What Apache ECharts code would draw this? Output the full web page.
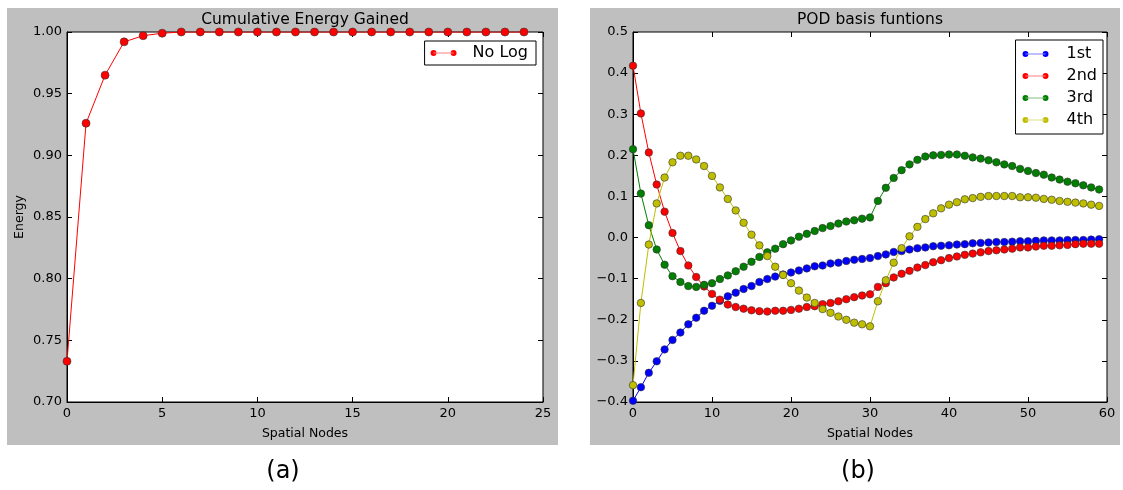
<!DOCTYPE html>
<html>
<head>
<meta charset="utf-8">
<script src="https://cdn.jsdelivr.net/npm/echarts@6/dist/echarts.min.js"></script>
<style>
  html, body { margin: 0; padding: 0; background: #fff; }
  #main { width: 1123px; height: 490px; }
</style>
</head>
<body>
<div id="main"></div>
<script>
// 左图：累计能量
var energyNodes = [0,1,2,3,4,5,6,7,8,9,10,11,12,13,14,15,16,17,18,19,20,21,22,23,24];
var energyNoLog = [0.733,0.926,0.965,0.992,0.997,0.999,1.0,1.0,1.0,1.0,1.0,1.0,1.0,1.0,1.0,1.0,1.0,1.0,1.0,1.0,1.0,1.0,1.0,1.0,1.0];

// 右图：POD 基函数
var podNodes = [];
for (var i = 0; i < 60; i++) podNodes.push(i);
var pod1st = [-0.397,-0.364,-0.329,-0.301,-0.272,-0.249,-0.231,-0.211,-0.195,-0.178,
  -0.166,-0.154,-0.143,-0.134,-0.125,-0.118,-0.108,-0.101,-0.095,-0.090,
  -0.085,-0.080,-0.075,-0.070,-0.068,-0.063,-0.061,-0.057,-0.054,-0.052,
  -0.050,-0.045,-0.041,-0.035,-0.033,-0.029,-0.026,-0.024,-0.021,-0.020,
  -0.019,-0.017,-0.016,-0.014,-0.013,-0.012,-0.011,-0.011,-0.010,-0.009,
  -0.009,-0.008,-0.007,-0.007,-0.007,-0.006,-0.006,-0.006,-0.005,-0.004];
var pod2nd = [0.418,0.302,0.207,0.129,0.063,0.011,-0.033,-0.068,-0.096,-0.119,
  -0.137,-0.151,-0.163,-0.169,-0.173,-0.177,-0.179,-0.180,-0.178,-0.178,
  -0.176,-0.173,-0.169,-0.167,-0.162,-0.159,-0.155,-0.150,-0.145,-0.141,
  -0.138,-0.120,-0.111,-0.097,-0.088,-0.081,-0.073,-0.067,-0.060,-0.055,
  -0.050,-0.046,-0.042,-0.039,-0.036,-0.033,-0.031,-0.029,-0.027,-0.024,
  -0.024,-0.022,-0.020,-0.020,-0.019,-0.018,-0.016,-0.015,-0.015,-0.015];
var pod3rd = [0.215,0.107,0.030,-0.029,-0.066,-0.094,-0.108,-0.118,-0.120,-0.115,
  -0.111,-0.101,-0.092,-0.082,-0.071,-0.059,-0.047,-0.036,-0.027,-0.016,
  -0.007,0.002,0.009,0.016,0.023,0.028,0.034,0.039,0.042,0.046,
  0.049,0.089,0.121,0.145,0.164,0.178,0.189,0.197,0.200,0.201,
  0.202,0.202,0.199,0.195,0.192,0.188,0.183,0.178,0.174,0.167,
  0.162,0.157,0.153,0.146,0.141,0.136,0.132,0.127,0.122,0.117];
var pod4th = [-0.359,-0.159,-0.017,0.083,0.146,0.183,0.199,0.199,0.190,0.174,
  0.150,0.122,0.094,0.066,0.036,0.007,-0.019,-0.045,-0.071,-0.091,
  -0.111,-0.129,-0.146,-0.159,-0.174,-0.183,-0.192,-0.200,-0.207,-0.211,
  -0.216,-0.155,-0.104,-0.061,-0.026,0.003,0.026,0.045,0.059,0.071,
  0.080,0.086,0.093,0.096,0.099,0.101,0.101,0.101,0.101,0.098,
  0.098,0.097,0.094,0.092,0.089,0.087,0.085,0.083,0.080,0.077];

var FONT = 'DejaVu Sans';
var legendIcon = 'path://M0,5a5,5 0 1,0 10,0a5,5 0 1,0-10,0zM34,5a5,5 0 1,0 10,0a5,5 0 1,0-10,0zM5,4.5h34v1h-34z';

function pairs(xs, ys) {
  return xs.map(function (x, i) { return [x, ys[i]]; });
}
function minus(v, d) {
  var s = Math.abs(v).toFixed(d);
  return v < -1e-9 ? '\u2212' + s : s;
}
function lineSeries(name, color, xi, yi, xs, ys, size) {
  return {
    name: name, type: 'line', xAxisIndex: xi, yAxisIndex: yi,
    data: pairs(xs, ys),
    symbol: 'circle', symbolSize: size,
    lineStyle: { color: color, width: 1 },
    itemStyle: { color: color, borderColor: '#333', borderWidth: 0.6 },
    emphasis: { disabled: true },
    animation: false, z: 3
  };
}
function tickAxis(grid, pos, min, max, interval) {
  return {
    type: 'value', gridIndex: grid, position: pos, min: min, max: max, interval: interval,
    axisLine: { show: false, onZero: false }, axisLabel: { show: false },
    axisTick: { show: true, inside: true, length: 5, lineStyle: { color: '#000' } },
    splitLine: { show: false }
  };
}
function mainX(grid, max, interval) {
  return {
    type: 'value', gridIndex: grid, min: 0, max: max, interval: interval,
    name: 'Spatial Nodes', nameLocation: 'middle', nameGap: 25,
    nameTextStyle: { fontFamily: FONT, fontSize: 12.5, color: '#000' },
    axisLine: { onZero: false, lineStyle: { color: '#000' } },
    axisTick: { inside: true, length: 5, lineStyle: { color: '#000' } },
    axisLabel: { fontFamily: FONT, fontSize: 13, color: '#000', margin: 5 },
    splitLine: { show: false }
  };
}

var dom = document.getElementById('main');
var myChart = echarts.init(dom, null, { renderer: 'canvas' });
var option = {
  backgroundColor: '#fff',
  animation: false,
  textStyle: { fontFamily: FONT },
  graphic: [
    { type: 'rect', shape: { x: 7, y: 8, width: 551, height: 437 }, style: { fill: '#bfbfbf' }, z: -10 },
    { type: 'rect', shape: { x: 590, y: 8, width: 530, height: 437 }, style: { fill: '#bfbfbf' }, z: -10 },
    { type: 'text', x: 283, y: 472, style: { text: '(a)', font: '24px "DejaVu Sans"', fill: '#000', textAlign: 'center', textVerticalAlign: 'middle' } },
    { type: 'text', x: 858, y: 472, style: { text: '(b)', font: '24px "DejaVu Sans"', fill: '#000', textAlign: 'center', textVerticalAlign: 'middle' } }
  ],
  title: [
    { text: 'Cumulative Energy Gained', left: 305, top: 12, textAlign: 'center', padding: 0,
      textStyle: { fontFamily: FONT, fontSize: 15.5, fontWeight: 'normal', color: '#000' } },
    { text: 'POD basis funtions', left: 870, top: 12, textAlign: 'center', padding: 0,
      textStyle: { fontFamily: FONT, fontSize: 15.5, fontWeight: 'normal', color: '#000' } }
  ],
  legend: [
    { data: ['No Log'], right: 587, top: 41, orient: 'vertical',
      icon: legendIcon, itemWidth: 26, itemHeight: 7,
      itemStyle: { borderWidth: 0 },
      borderColor: '#000', borderWidth: 1, borderRadius: 0, padding: [4, 8, 4, 6],
      backgroundColor: '#fff',
      textStyle: { fontFamily: FONT, fontSize: 16, color: '#000', padding: [0, 0, 0, 11] } },
    { data: ['1st', '2nd', '3rd', '4th'], right: 20, top: 40, orient: 'vertical',
      icon: legendIcon, itemWidth: 26, itemHeight: 7, itemGap: 6,
      itemStyle: { borderWidth: 0 },
      borderColor: '#000', borderWidth: 1, borderRadius: 0, padding: [6, 6, 6, 7],
      backgroundColor: '#fff',
      textStyle: { fontFamily: FONT, fontSize: 16, color: '#000', padding: [0, 0, 0, 13] } }
  ],
  grid: [
    { left: 67, top: 32, width: 476, height: 370, show: true, backgroundColor: '#fff', borderColor: '#000', borderWidth: 1 },
    { left: 633, top: 32, width: 474, height: 370, show: true, backgroundColor: '#fff', borderColor: '#000', borderWidth: 1 }
  ],
  xAxis: [
    mainX(0, 25, 5),
    tickAxis(0, 'top', 0, 25, 5),
    mainX(1, 60, 10),
    tickAxis(1, 'top', 0, 60, 10)
  ],
  yAxis: [
    { type: 'value', gridIndex: 0, min: 0.70, max: 1.00, interval: 0.05,
      name: 'Energy', nameLocation: 'middle', nameGap: 41,
      nameTextStyle: { fontFamily: FONT, fontSize: 12.5, color: '#000' },
      axisLine: { onZero: false, lineStyle: { color: '#000' } },
      axisTick: { inside: true, length: 5, lineStyle: { color: '#000' } },
      axisLabel: { fontFamily: FONT, fontSize: 13, color: '#000', margin: 5,
        formatter: function (v) { return v.toFixed(2); } },
      splitLine: { show: false } },
    tickAxis(0, 'right', 0.70, 1.00, 0.05),
    { type: 'value', gridIndex: 1, min: -0.4, max: 0.5, interval: 0.1,
      axisLine: { onZero: false, lineStyle: { color: '#000' } },
      axisTick: { inside: true, length: 5, lineStyle: { color: '#000' } },
      axisLabel: { fontFamily: FONT, fontSize: 13, color: '#000', margin: 5,
        formatter: function (v) { return minus(v, 1); } },
      splitLine: { show: false } },
    tickAxis(1, 'right', -0.4, 0.5, 0.1)
  ],
  series: [
    lineSeries('No Log', '#ff0000', 0, 0, energyNodes, energyNoLog, 8),
    lineSeries('1st', '#0000ff', 2, 2, podNodes, pod1st, 7.5),
    lineSeries('2nd', '#ff0000', 2, 2, podNodes, pod2nd, 7.5),
    lineSeries('3rd', '#008000', 2, 2, podNodes, pod3rd, 7.5),
    lineSeries('4th', '#bfbf00', 2, 2, podNodes, pod4th, 7.5)
  ]
};

if (option && typeof option === 'object') {
  myChart.setOption(option, true);
}
</script>
</body>
</html>
